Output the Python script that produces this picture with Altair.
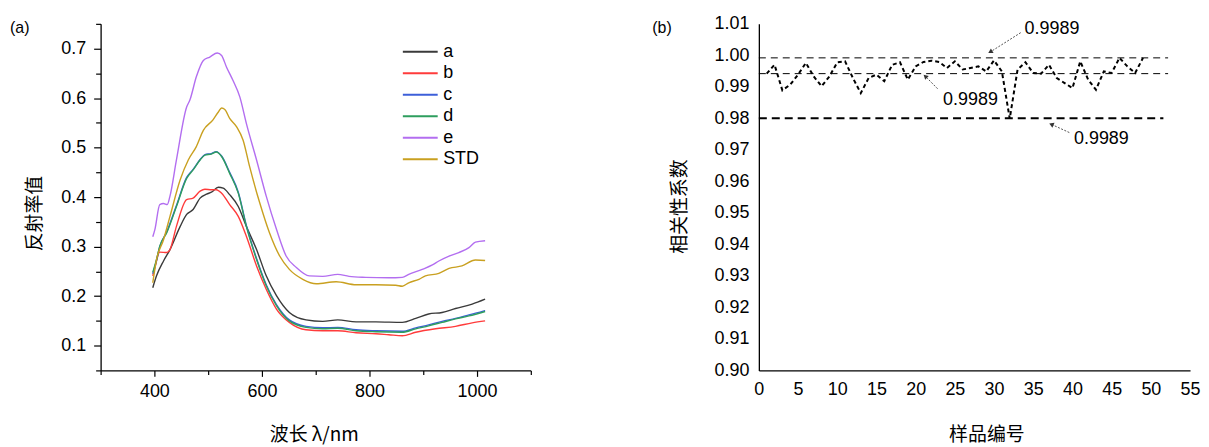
import altair as alt
import pandas as pd

# ---------------- Panel (a): reflectance spectra ----------------
SERIES = ["a", "b", "c", "d", "e", "STD"]
COLORS = ["#3a3a3a", "#ff3b3b", "#3d5fd9", "#2e9e5e", "#b36ef0", "#c9a020"]

A_WL = [397, 404, 417, 429, 448, 460, 472, 485, 497, 506, 519, 528, 540, 556, 571, 590, 608, 627, 651, 682, 713, 741, 775, 812, 861, 886, 910, 935, 960, 991, 1015]
A_VAL = [0.217, 0.241, 0.271, 0.294, 0.341, 0.365, 0.375, 0.398, 0.406, 0.410, 0.420, 0.418, 0.405, 0.381, 0.341, 0.294, 0.241, 0.201, 0.167, 0.152, 0.149, 0.152, 0.148, 0.148, 0.147, 0.155, 0.164, 0.167, 0.175, 0.184, 0.194]

B_WL = [397, 401, 410, 423, 429, 441, 460, 472, 485, 494, 506, 515, 525, 540, 556, 571, 590, 608, 627, 651, 682, 713, 741, 775, 812, 836, 861, 886, 923, 960, 991, 1015]
B_VAL = [0.241, 0.258, 0.289, 0.288, 0.294, 0.341, 0.395, 0.398, 0.412, 0.416, 0.415, 0.415, 0.408, 0.385, 0.361, 0.321, 0.261, 0.214, 0.174, 0.147, 0.132, 0.130, 0.130, 0.126, 0.124, 0.122, 0.120, 0.127, 0.134, 0.139, 0.146, 0.150]

C_WL = [397, 404, 410, 423, 441, 460, 472, 485, 494, 506, 515, 525, 540, 556, 571, 590, 608, 627, 651, 682, 713, 741, 775, 812, 861, 886, 910, 935, 960, 985, 1015]
C_VAL = [0.245, 0.272, 0.300, 0.330, 0.383, 0.440, 0.456, 0.476, 0.486, 0.488, 0.492, 0.483, 0.450, 0.410, 0.343, 0.276, 0.223, 0.183, 0.152, 0.139, 0.136, 0.137, 0.132, 0.130, 0.129, 0.136, 0.142, 0.149, 0.155, 0.162, 0.171]

D_WL = [397, 404, 410, 423, 441, 460, 472, 485, 494, 506, 515, 525, 540, 556, 571, 590, 608, 627, 651, 682, 713, 741, 775, 812, 861, 886, 910, 935, 960, 985, 1015]
D_VAL = [0.248, 0.274, 0.301, 0.328, 0.381, 0.438, 0.455, 0.475, 0.485, 0.487, 0.491, 0.482, 0.448, 0.408, 0.341, 0.274, 0.221, 0.181, 0.150, 0.137, 0.134, 0.135, 0.130, 0.128, 0.127, 0.134, 0.140, 0.147, 0.154, 0.160, 0.169]

E_WL = [397, 401, 410, 417, 424, 429, 441, 460, 466, 478, 491, 503, 517, 525, 534, 546, 559, 571, 590, 608, 627, 645, 664, 688, 713, 741, 762, 793, 836, 861, 873, 898, 917, 929, 948, 966, 985, 997, 1015]
E_VAL = [0.320, 0.335, 0.385, 0.387, 0.385, 0.402, 0.475, 0.582, 0.596, 0.643, 0.676, 0.683, 0.691, 0.686, 0.663, 0.636, 0.602, 0.549, 0.475, 0.402, 0.335, 0.281, 0.258, 0.241, 0.240, 0.244, 0.240, 0.238, 0.237, 0.238, 0.244, 0.254, 0.263, 0.271, 0.281, 0.288, 0.298, 0.309, 0.312]

S_WL = [397, 404, 417, 429, 448, 463, 478, 491, 509, 519, 525, 531, 540, 553, 565, 577, 596, 614, 633, 651, 676, 701, 738, 775, 812, 849, 861, 873, 892, 904, 929, 948, 972, 997, 1015]
S_VAL = [0.227, 0.274, 0.314, 0.361, 0.435, 0.475, 0.502, 0.535, 0.556, 0.572, 0.580, 0.577, 0.559, 0.542, 0.515, 0.462, 0.388, 0.328, 0.281, 0.254, 0.234, 0.225, 0.229, 0.223, 0.223, 0.222, 0.220, 0.227, 0.234, 0.241, 0.246, 0.256, 0.261, 0.273, 0.272]

A_X_TICKS = list(range(300, 1101, 100))
A_Y_TICKS = [round(0.05 * i, 2) for i in range(1, 16)]

# ---------------- Panel (b): correlation coefficients ----------------
B_SAMPLE = list(range(1, 50))
B_CORR = [0.9942, 0.9970, 0.9889, 0.9907, 0.9939, 0.9976, 0.9933, 0.9902, 0.9933, 0.9978,
          0.9981, 0.9928, 0.9880, 0.9928, 0.9939, 0.9918, 0.9970, 0.9978, 0.9923, 0.9965,
          0.9979, 0.9983, 0.9979, 0.9960, 0.9981, 0.9955, 0.9960, 0.9965, 0.9949, 0.9984,
          0.9949, 0.9799, 0.9955, 0.9978, 0.9944, 0.9942, 0.9970, 0.9928, 0.9912, 0.9896,
          0.9981, 0.9923, 0.9891, 0.9949, 0.9944, 0.9992, 0.9965, 0.9944, 0.9992]

REF_THIN_Y = [0.9992, 0.9942]
REF_THIN_XEND = [52.2, 52.2]
REF_THICK_Y = [0.9800]
REF_THICK_XEND = [51.6]

ANN_TEXT = ["0.9989", "0.9989", "0.9989"]
ANN_X = [33.9, 23.5, 40.2]
ANN_Y = [1.0082, 0.9859, 0.9736]
ARR_X1 = [33.4, 22.8, 39.6]
ARR_Y1 = [1.0072, 0.9894, 0.9755]
ARR_X2 = [29.6, 21.3, 37.4]
ARR_Y2 = [1.0012, 0.9932, 0.9780]
ARR_ANGLE = [240, 313, 294]

B_X_TICKS = list(range(0, 56, 5))
B_Y_TICKS = [round(0.90 + 0.01 * i, 2) for i in range(12)]

PANEL_LABELS = ["(a)", "(b)"]

LATIN = "Liberation Sans"
CJK = "Noto Sans CJK SC"

# ---------------- build panel (a) ----------------
rows = []
for name, wl, vals in zip(SERIES, [A_WL, B_WL, C_WL, D_WL, E_WL, S_WL],
                          [A_VAL, B_VAL, C_VAL, D_VAL, E_VAL, S_VAL]):
    for w, v in zip(wl, vals):
        rows.append({"series": name, "wl": w, "v": v})
spec = pd.DataFrame(rows)

WA, HA = 432, 348

x_major = "datum.value % 200 == 0"
y_major = "abs(datum.value*10 - round(datum.value*10)) < 0.001"

lines_a = alt.Chart(spec).mark_line(strokeWidth=1.4, interpolate="monotone").encode(
    x=alt.X("wl:Q",
            scale=alt.Scale(domain=[300, 1100], nice=False, zero=False),
            axis=alt.Axis(values=A_X_TICKS,
                          labelExpr=f"{x_major} ? format(datum.value, 'd') : ''",
                          tickSize={"condition": {"test": x_major, "value": 6}, "value": 4},
                          labelPadding=6, labelOverlap=False, labelFlush=False,
                          title="波长 λ/nm",
                          titleX=WA / 2 - 2, titleY=64, titleBaseline="middle")),
    y=alt.Y("v:Q",
            scale=alt.Scale(domain=[0.05, 0.75], nice=False, zero=False),
            axis=alt.Axis(values=A_Y_TICKS,
                          labelExpr=f"{y_major} ? format(datum.value, '.1f') : ''",
                          tickSize={"condition": {"test": y_major, "value": 7}, "value": 5},
                          labelPadding=8, labelOverlap=False, labelFlush=False,
                          title="反射率值",
                          titleX=-66, titleY=190, titleBaseline="middle", titleAngle=270)),
    color=alt.Color("series:N",
                    scale=alt.Scale(domain=SERIES, range=COLORS),
                    sort=SERIES,
                    legend=alt.Legend(orient="none", legendX=310, legendY=17, title=None,
                                      symbolType="M-1.75,0H1.75", symbolSize=400,
                                      symbolStrokeWidth=2, labelFontSize=18,
                                      labelFont=LATIN, labelColor="black",
                                      labelOffset=12, rowPadding=1.6)),
    order=alt.value(0),
)

lab_a = alt.Chart(pd.DataFrame({"t": [PANEL_LABELS[0]]})).mark_text(
    align="left", baseline="middle", fontSize=16, font=LATIN, color="black"
).encode(text="t:N", x=alt.value(-91), y=alt.value(4))

panel_a = alt.layer(lines_a, lab_a).properties(width=WA, height=HA)

# ---------------- build panel (b) ----------------
WB, HB = 433, 348

xb = alt.X("x:Q", scale=alt.Scale(domain=[0, 55], nice=False, zero=False),
           axis=alt.Axis(values=B_X_TICKS, ticks=False, labelPadding=10, labelOverlap=False,
                         labelFlush=False,
                         title="样品编号", titleX=WB / 2 + 12, titleY=64,
                         titleBaseline="middle"))
yb = alt.Y("y:Q", scale=alt.Scale(domain=[0.90, 1.01], nice=False, zero=False),
           axis=alt.Axis(values=B_Y_TICKS, format=".2f", ticks=False, labelPadding=10,
                         labelOverlap=False, labelFlush=False,
                         title="相关性系数", titleX=-80, titleY=183,
                         titleBaseline="middle", titleAngle=270))

ref_thin = alt.Chart(pd.DataFrame({"y": REF_THIN_Y, "x": [0] * len(REF_THIN_Y),
                                   "x2": REF_THIN_XEND})).mark_rule(
    color="black", strokeWidth=1, strokeDash=[7, 5]
).encode(x=xb, x2="x2:Q", y=yb)

ref_thick = alt.Chart(pd.DataFrame({"y": REF_THICK_Y, "x": [0] * len(REF_THICK_Y),
                                    "x2": REF_THICK_XEND})).mark_rule(
    color="black", strokeWidth=2, strokeDash=[8, 5]
).encode(x=xb, x2="x2:Q", y=yb)

corr = alt.Chart(pd.DataFrame({"x": B_SAMPLE, "y": B_CORR})).mark_line(
    color="black", strokeWidth=2, strokeDash=[4, 3]
).encode(x=xb, y=yb)

arrow_df = pd.DataFrame({"x": ARR_X1, "y": ARR_Y1, "x2": ARR_X2, "y2": ARR_Y2})
head_df = pd.DataFrame({"x": ARR_X2, "y": ARR_Y2, "ang": ARR_ANGLE})
text_df = pd.DataFrame({"x": ANN_X, "y": ANN_Y, "t": ANN_TEXT})

arrows = alt.Chart(arrow_df).mark_rule(color="#555555", strokeWidth=1, strokeDash=[2, 1.5]).encode(
    x=xb, y=yb, x2="x2:Q", y2="y2:Q")

heads = alt.Chart(head_df).mark_point(shape="triangle", filled=True, color="#333333",
                                      size=28, opacity=1).encode(
    x=xb, y=yb, angle=alt.Angle("ang:Q", scale=None))

texts = alt.Chart(text_df).mark_text(align="left", baseline="middle", fontSize=18,
                                     font=LATIN, color="black").encode(
    x=xb, y=yb, text="t:N")

lab_b = alt.Chart(pd.DataFrame({"t": [PANEL_LABELS[1]]})).mark_text(
    align="left", baseline="middle", fontSize=16, font=LATIN, color="black"
).encode(text="t:N", x=alt.value(-107), y=alt.value(4))

panel_b = alt.layer(ref_thin, ref_thick, corr, arrows, heads, texts, lab_b).properties(
    width=WB, height=HB)

chart = alt.hconcat(panel_a, panel_b, spacing=121).properties(
    padding={"left": 2, "top": 6, "right": 0, "bottom": 0}
).configure_axis(
    labelFont=LATIN, labelFontSize=18, labelColor="black",
    domainColor="black", domainWidth=1.3, tickColor="black", tickWidth=1.2,
    grid=False, titleFont=CJK, titleFontSize=19, titleFontWeight="normal",
    titleColor="black"
).configure_view(stroke=None)

chart.save("out.html", embed_options={"renderer": "svg", "actions": False})
